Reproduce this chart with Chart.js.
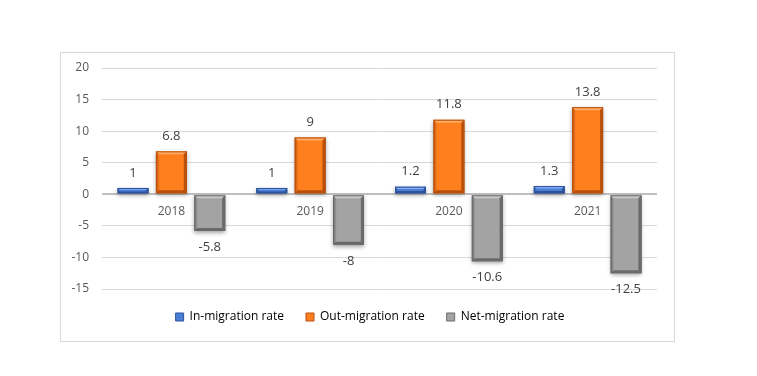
<!DOCTYPE html>
<html>
<head>
<meta charset="utf-8">
<script src="https://cdn.jsdelivr.net/npm/chart.js@4.4.1/dist/chart.umd.min.js"></script>
<style>
  html, body { margin: 0; padding: 0; background: #fff; }
  #wrap { width: 757px; height: 376px; position: relative; }
</style>
</head>
<body>
<div id="wrap"><canvas id="migChart" width="757" height="376"></canvas></div>
<script>
// ── Migration rates chart ──
const years = ['2018', '2019', '2020', '2021'];
const inRate = [1, 1, 1.2, 1.3];
const outRate = [6.8, 9, 11.8, 13.8];
const netRate = [-5.8, -8, -10.6, -12.5];
const yTicks = [-15, -10, -5, 0, 5, 10, 15, 20];

const FONT = '"Open Sans", "Noto Sans", sans-serif';

// bevel tones per dataset: [dark edge, main, light band]
const tones = [
  ['#2c529c', '#4a7fd8', '#86aef2'],
  ['#b8500c', '#ff7f1e', '#ffab63'],
  ['#6a6a6a', '#a3a3a3', '#c9c9c9']
];

// outer frame like the office chart area, legend nudged to the right
const framePlugin = {
  id: 'frame',
  afterLayout(chart) {
    chart.legend.left += 10.5;
    chart.legend.right += 10.5;
  },
  beforeDraw(chart) {
    const c = chart.ctx;
    c.save();
    c.strokeStyle = '#d9d9d9';
    c.lineWidth = 1;
    c.strokeRect(60.5, 52.5, 614, 289);
    c.restore();
  }
};

// bevel look + value labels
const bevelPlugin = {
  id: 'bevel',
  afterDatasetsDraw(chart) {
    const c = chart.ctx;
    chart.data.datasets.forEach((ds, di) => {
      const meta = chart.getDatasetMeta(di);
      const [dark, main, light] = tones[di];
      meta.data.forEach((bar, i) => {
        const w = bar.width;
        const l = bar.x - w / 2, r = bar.x + w / 2;
        const t = Math.min(bar.y, bar.base), b = Math.max(bar.y, bar.base);
        const h = b - t;
        const bv = Math.min(3, h / 3);
        c.save();
        // body gradient
        const g = c.createLinearGradient(l, 0, r, 0);
        g.addColorStop(0, dark);
        g.addColorStop(0.12, main);
        g.addColorStop(0.88, main);
        g.addColorStop(1, dark);
        c.shadowColor = 'rgba(0,0,0,0.35)';
        c.shadowBlur = 4;
        c.shadowOffsetY = 2;
        c.fillStyle = g;
        c.fillRect(l, t, w, h);
        c.shadowColor = 'transparent';
        // top light band
        c.fillStyle = light;
        c.beginPath();
        c.moveTo(l, t); c.lineTo(r, t); c.lineTo(r - bv, t + bv); c.lineTo(l + bv, t + bv);
        c.closePath(); c.fill();
        // bottom dark band
        c.fillStyle = dark;
        c.beginPath();
        c.moveTo(l, b); c.lineTo(r, b); c.lineTo(r - bv, b - bv); c.lineTo(l + bv, b - bv);
        c.closePath(); c.fill();
        // right dark edge
        c.beginPath();
        c.moveTo(r, t); c.lineTo(r, b); c.lineTo(r - bv, b - bv); c.lineTo(r - bv, t + bv);
        c.closePath(); c.fill();
        c.strokeStyle = dark;
        c.lineWidth = 1;
        c.strokeRect(l + 0.5, t + 0.5, w - 1, h - 1);
        c.restore();

        // value label
        const v = ds.data[i];
        c.save();
        c.font = '13px ' + FONT;
        c.fillStyle = '#404040';
        c.textAlign = 'center';
        c.textBaseline = 'middle';
        const ly = v >= 0 ? t - 15 : b + 16;
        c.fillText(String(v), bar.x, ly);
        c.restore();
      });
    });
  }
};

new Chart(document.getElementById('migChart'), {
  type: 'bar',
  data: {
    labels: years,
    datasets: [
      { label: 'In-migration rate', data: inRate, backgroundColor: 'rgba(0,0,0,0)', legendColor: tones[0][1] },
      { label: 'Out-migration rate', data: outRate, backgroundColor: 'rgba(0,0,0,0)', legendColor: tones[1][1] },
      { label: 'Net-migration rate', data: netRate, backgroundColor: 'rgba(0,0,0,0)', legendColor: tones[2][1] }
    ]
  },
  options: {
    responsive: false,
    animation: false,
    categoryPercentage: 0.83,
    barPercentage: 0.805,
    layout: { padding: { left: 62, right: 100, top: 68, bottom: 43 } },
    plugins: {
      tooltip: { enabled: false },
      legend: {
        position: 'bottom',
        labels: {
          font: { family: FONT, size: 12 },
          color: '#595959',
          boxWidth: 8,
          boxHeight: 8,
          padding: 22,
          generateLabels: chart => chart.data.datasets.map((ds, i) => ({
            text: ds.label,
            fillStyle: ds.legendColor,
            strokeStyle: tones[i][0],
            lineWidth: 1,
            datasetIndex: i
          }))
        }
      }
    },
    scales: {
      x: {
        position: { y: 0 },
        grid: { display: false, drawTicks: false },
        border: { display: false },
        ticks: { font: { family: FONT, size: 12 }, color: '#595959', padding: 10 },
        afterFit: s => { s.height = 0; }
      },
      y: {
        min: -15,
        max: 20,
        afterBuildTicks: s => { s.ticks = yTicks.map(v => ({ value: v })); },
        afterFit: s => { s.width = 40; },
        grid: {
          drawTicks: false,
          color: c => c.tick && c.tick.value === 0 ? '#bfbfbf' : '#d9d9d9',
          lineWidth: c => c.tick && c.tick.value === 0 ? 2 : 1
        },
        border: { display: false },
        ticks: { font: { family: FONT, size: 12 }, color: '#595959', padding: 13 }
      }
    }
  },
  plugins: [framePlugin, bevelPlugin]
});
</script>
</body>
</html>
